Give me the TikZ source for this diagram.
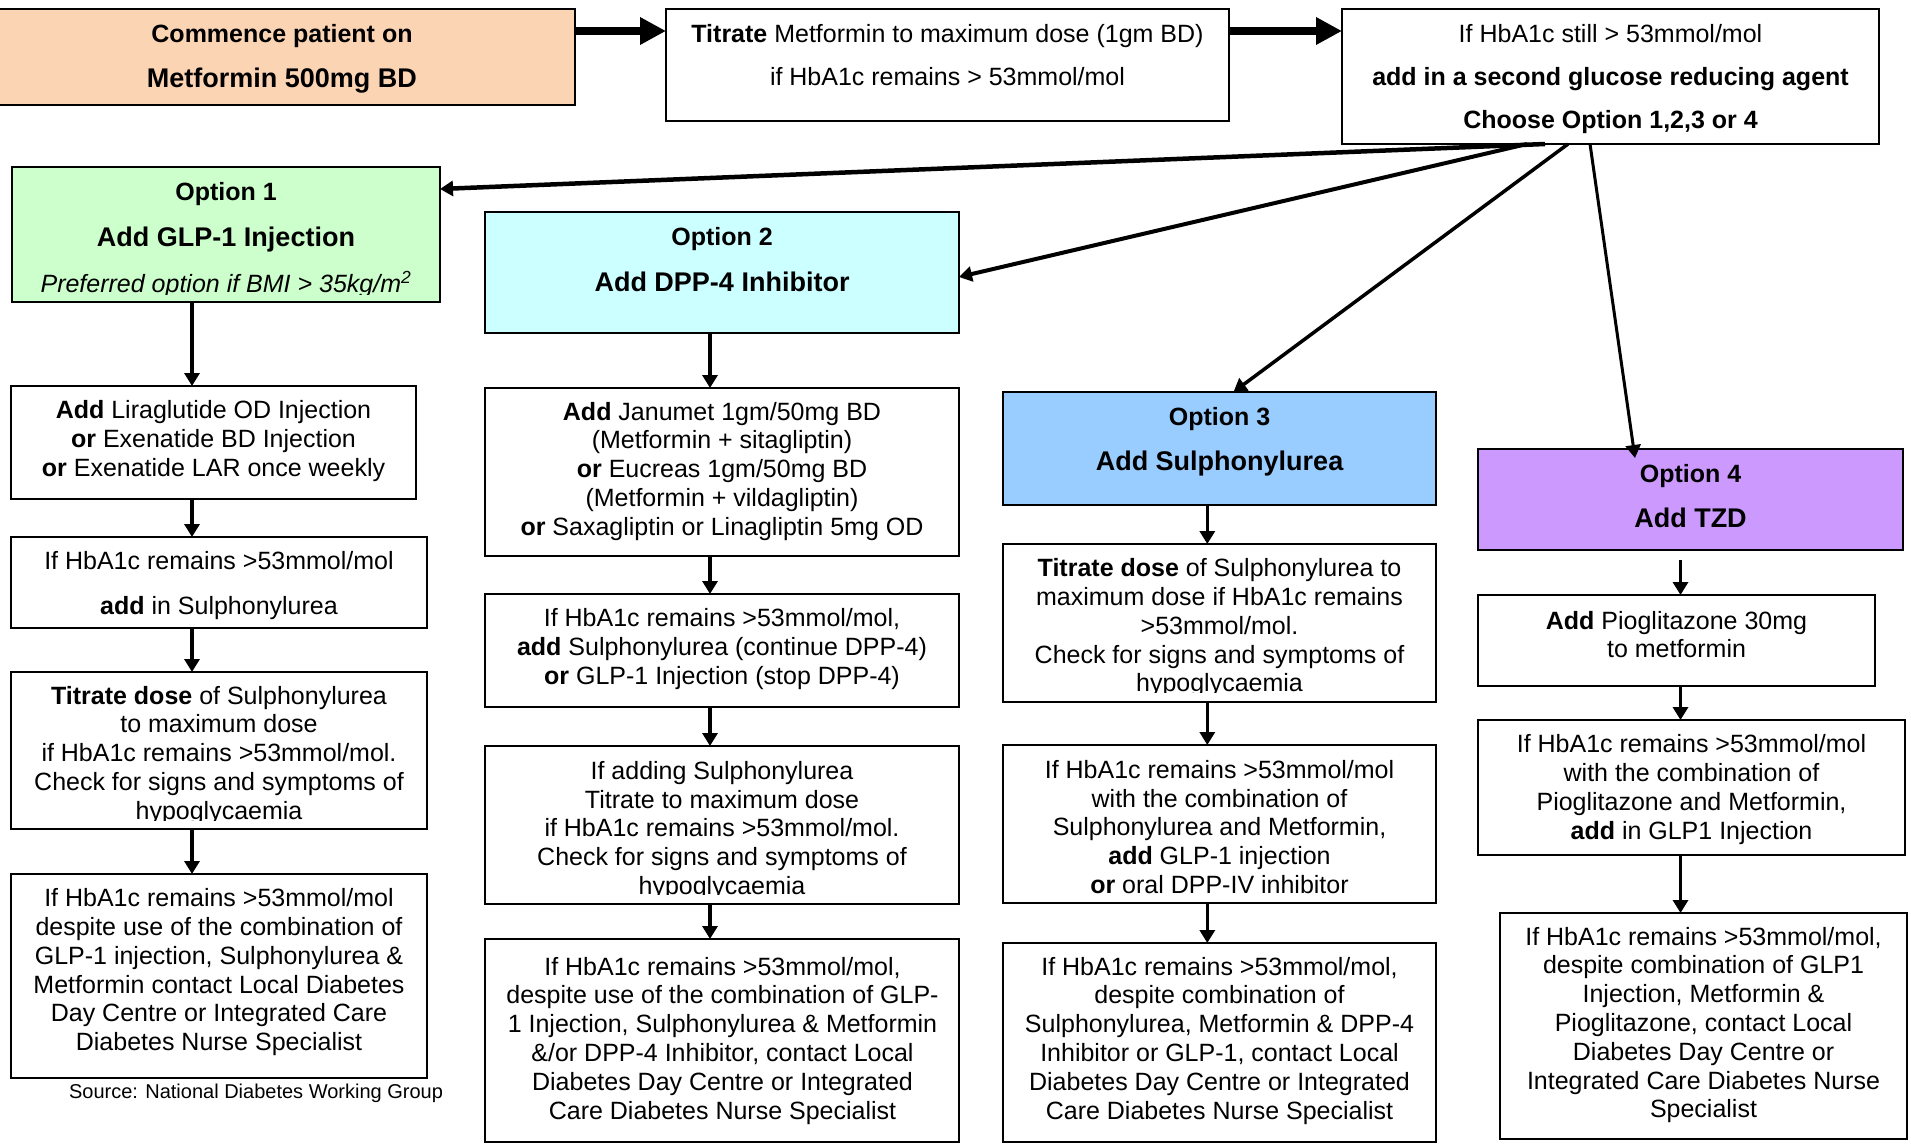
\documentclass[tikz,border=0pt]{standalone}
\usepackage{fontspec}
\setmainfont{Liberation Sans}
\usetikzlibrary{arrows.meta,calc}
\definecolor{peach}{HTML}{FBD4B4}
\definecolor{optgreen}{HTML}{CCFFCC}
\definecolor{optcyan}{HTML}{CCFFFF}
\definecolor{optblue}{HTML}{99CCFF}
\definecolor{optpurple}{HTML}{CC99FF}
\newcommand\stk[1]{\begin{tabular}[t]{@{}c@{}}#1\end{tabular}}
\newcommand\bx[6]{%
  \pgfmathsetmacro\bxw{#4-#2}\pgfmathsetmacro\bxh{#5-#3}%
  \pgfmathsetmacro\bxcx{(#2+#4)/2}\pgfmathsetmacro\bxcy{(#3+#5)/2}%
  \node[#6, minimum width=\bxw pt, minimum height=\bxh pt] (#1) at (\bxcx,\bxcy) {};}
\newcommand\bigtitle{\fontsize{27}{30}\selectfont\bfseries}
\begin{document}
\begin{tikzpicture}[x=1pt,y=-1pt,
  every node/.style={inner sep=0pt,outer sep=0pt},
  box/.style={draw=black,line width=1.8pt,fill=white,rectangle},
  txt/.style={anchor=base,font=\fontsize{25}{28.8}\selectfont},
  srctxt/.style={anchor=base,font=\fontsize{20}{24}\selectfont},
  arr/.style={line width=3.5pt,-{Triangle[length=13pt,width=15pt]}},
  bigarr/.style={line width=8pt,-{Triangle[length=26pt,width=26pt]}}]
\useasboundingbox (0,0) rectangle (1911,1143);
\fill[white] (0,0) rectangle (1911,1143);
% boxes
\bx{n1}{-4}{9}{575}{105}{box,fill=peach}
\bx{n2}{666}{9}{1229}{121}{box}
\bx{n3}{1342}{9}{1879}{144}{box}
\bx{o1}{12}{167}{440}{302}{box,fill=optgreen}
\bx{o2}{485}{212}{959}{333}{box,fill=optcyan}
\bx{o3}{1003}{392}{1436}{505}{box,fill=optblue}
\bx{o4}{1478}{449}{1903}{550}{box,fill=optpurple}
\bx{a1}{11}{386}{416}{499}{box}
\bx{a2}{11}{537}{427}{628}{box}
\bx{a3}{11}{672}{427}{829}{box}
\bx{a4}{11}{874}{427}{1078}{box}
\bx{b1}{485}{388}{959}{556}{box}
\bx{b2}{485}{594}{959}{707}{box}
\bx{b3}{485}{746}{959}{904}{box}
\bx{b4}{485}{939}{959}{1142}{box}
\bx{c1}{1003}{544}{1436}{702}{box}
\bx{c2}{1003}{745}{1436}{903}{box}
\bx{c3}{1003}{943}{1436}{1142}{box}
\bx{d1}{1478}{595}{1875}{686}{box}
\bx{d2}{1478}{720}{1905}{855}{box}
\bx{d3}{1500}{913}{1907}{1139}{box}
% texts
\node[txt] (n1t) at (282,42) {\stk{\textbf{Commence patient on}\\[16.2pt]\bigtitle Metformin 500mg BD}};
\node[txt] (n2t) at (947.5,42) {\stk{\textbf{Titrate} Metformin to maximum dose (1gm BD)\\[14.2pt]if HbA1c remains > 53mmol/mol}};
\node[txt] (n3t) at (1610.5,42) {\stk{If HbA1c still > 53mmol/mol\\[14.2pt]\textbf{add in a second glucose reducing agent}\\[14.2pt]\textbf{Choose Option 1,2,3 or 4}}};
\begin{scope}
\clip (12,167) rectangle (440,294.5);
\node[txt] (o1t) at (226,200) {\stk{\textbf{Option 1}\\[17.2pt]\bigtitle Add GLP-1 Injection\\[16.2pt]\itshape Preferred option if BMI > 35kg/m\textsuperscript{2}}};
\end{scope}
\node[txt] (o2t) at (722,245) {\stk{\textbf{Option 2}\\[17.2pt]\bigtitle Add DPP-4 Inhibitor}};
\node[txt] (o3t) at (1219.5,425) {\stk{\textbf{Option 3}\\[16.9pt]\bigtitle Add Sulphonylurea}};
\node[txt] (o4t) at (1690.5,482) {\stk{\textbf{Option 4}\\[16.2pt]\bigtitle Add TZD}};
% column A
\node[txt,font=\fontsize{25}{29.2}\selectfont] (a1t) at (213.5,418.3) {\stk{\textbf{Add} Liraglutide OD Injection\\\textbf{or} Exenatide BD Injection\\\textbf{or} Exenatide LAR once weekly}};
\node[txt] (a2t) at (219,569.3) {\stk{If HbA1c remains >53mmol/mol\\[16.2pt]\textbf{add} in Sulphonylurea}};
\begin{scope}
\clip (11,672) rectangle (427,820.5);
\node[txt] (a3t) at (219,704) {\stk{\textbf{Titrate dose} of Sulphonylurea\\to maximum dose\\if HbA1c remains >53mmol/mol.\\Check for signs and symptoms of\\hypoglycaemia}};
\end{scope}
\node[txt] (a4t) at (219,906.7) {\stk{If HbA1c remains >53mmol/mol\\despite use of the combination of\\GLP-1 injection, Sulphonylurea \&\\Metformin contact Local Diabetes\\Day Centre or Integrated Care\\Diabetes Nurse Specialist}};
\node[srctxt] (src) at (256,1098) {Source: National Diabetes Working Group};
% column B
\node[txt] (b1t) at (722,420) {\stk{\textbf{Add} Janumet 1gm/50mg BD\\(Metformin + sitagliptin)\\\textbf{or} Eucreas 1gm/50mg BD\\(Metformin + vildagliptin)\\\textbf{or} Saxagliptin or Linagliptin 5mg OD}};
\node[txt] (b2t) at (722,626.7) {\stk{If HbA1c remains >53mmol/mol,\\\textbf{add} Sulphonylurea (continue DPP-4)\\\textbf{or} GLP-1 Injection (stop DPP-4)}};
\begin{scope}
\clip (485,746) rectangle (959,894.5);
\node[txt] (b3t) at (722,779.3) {\stk{If adding Sulphonylurea\\Titrate to maximum dose\\if HbA1c remains >53mmol/mol.\\Check for signs and symptoms of\\hypoglycaemia}};
\end{scope}
\node[txt] (b4t) at (722.5,975) {\stk{If HbA1c remains >53mmol/mol,\\despite use of the combination of GLP-\\1 Injection, Sulphonylurea \& Metformin\\\&/or DPP-4 Inhibitor, contact Local\\Diabetes Day Centre or Integrated\\Care Diabetes Nurse Specialist}};
% column C
\begin{scope}
\clip (1003,544) rectangle (1436,692);
\node[txt] (c1t) at (1219.5,576.7) {\stk{\textbf{Titrate dose} of Sulphonylurea to\\maximum dose if HbA1c remains\\>53mmol/mol.\\Check for signs and symptoms of\\hypoglycaemia}};
\end{scope}
\node[txt] (c2t) at (1219.5,778.3) {\stk{If HbA1c remains >53mmol/mol\\with the combination of\\Sulphonylurea and Metformin,\\\textbf{add} GLP-1 injection\\\textbf{or} oral DPP-IV inhibitor}};
\node[txt] (c3t) at (1219.5,975) {\stk{If HbA1c remains >53mmol/mol,\\despite combination of\\Sulphonylurea, Metformin \& DPP-4\\Inhibitor or GLP-1, contact Local\\Diabetes Day Centre or Integrated\\Care Diabetes Nurse Specialist}};
% column D
\node[txt] (d1t) at (1676.5,629) {\stk{\textbf{Add} Pioglitazone 30mg\\to metformin}};
\node[txt] (d2t) at (1691.5,752.7) {\stk{If HbA1c remains >53mmol/mol\\with the combination of\\Pioglitazone and Metformin,\\\textbf{add} in GLP1 Injection}};
\node[txt] (d3t) at (1703.5,945) {\stk{If HbA1c remains >53mmol/mol,\\despite combination of GLP1\\Injection, Metformin \&\\Pioglitazone, contact Local\\Diabetes Day Centre or\\Integrated Care Diabetes Nurse\\Specialist}};
% column x positions
\coordinate (colA) at (192,0);
\coordinate (colB) at (710,0);
\coordinate (colC) at (1207.3,0);
\coordinate (colD) at (1680.5,0);
% top arrows
\draw[bigarr] ([yshift=26pt]n1.east) -- ([yshift=34pt]n2.west);
\draw[bigarr] ([yshift=34pt]n2.east) -- ([yshift=45.5pt]n3.west);
% branch arrows
\draw[arr,line width=4.5pt] ([xshift=-65.5pt]n3.south) -- ([yshift=45.5pt]o1.east);
\draw[arr,line width=4pt] ([xshift=-83.5pt]n3.south) -- ([yshift=-4.5pt]o2.east);
\draw[arr] ([xshift=-42.5pt]n3.south) -- ([xshift=14pt]o3.north);
\draw[arr,line width=3pt] ([xshift=-20.5pt]n3.south) -- ([xshift=-55.5pt,yshift=-9pt]o4.north);
% column arrows
\draw[arr] (colA |- o1.south) -- (colA |- a1.north);
\draw[arr] (colA |- a1.south) -- (colA |- a2.north);
\draw[arr] (colA |- a2.south) -- (colA |- a3.north);
\draw[arr] (colA |- a3.south) -- (colA |- a4.north);
\draw[arr] (colB |- o2.south) -- (colB |- b1.north);
\draw[arr] (colB |- b1.south) -- (colB |- b2.north);
\draw[arr] (colB |- b2.south) -- (colB |- b3.north);
\draw[arr] (colB |- b3.south) -- (colB |- b4.north);
\draw[arr] (colC |- o3.south) -- (colC |- c1.north);
\draw[arr] (colC |- c1.south) -- (colC |- c2.north);
\draw[arr] (colC |- c2.south) -- (colC |- c3.north);
\draw[arr] ($(colD |- o4.south)+(0,10)$) -- (colD |- d1.north);
\draw[arr] (colD |- d1.south) -- (colD |- d2.north);
\draw[arr] (colD |- d2.south) -- (colD |- d3.north);
\end{tikzpicture}
\end{document}
